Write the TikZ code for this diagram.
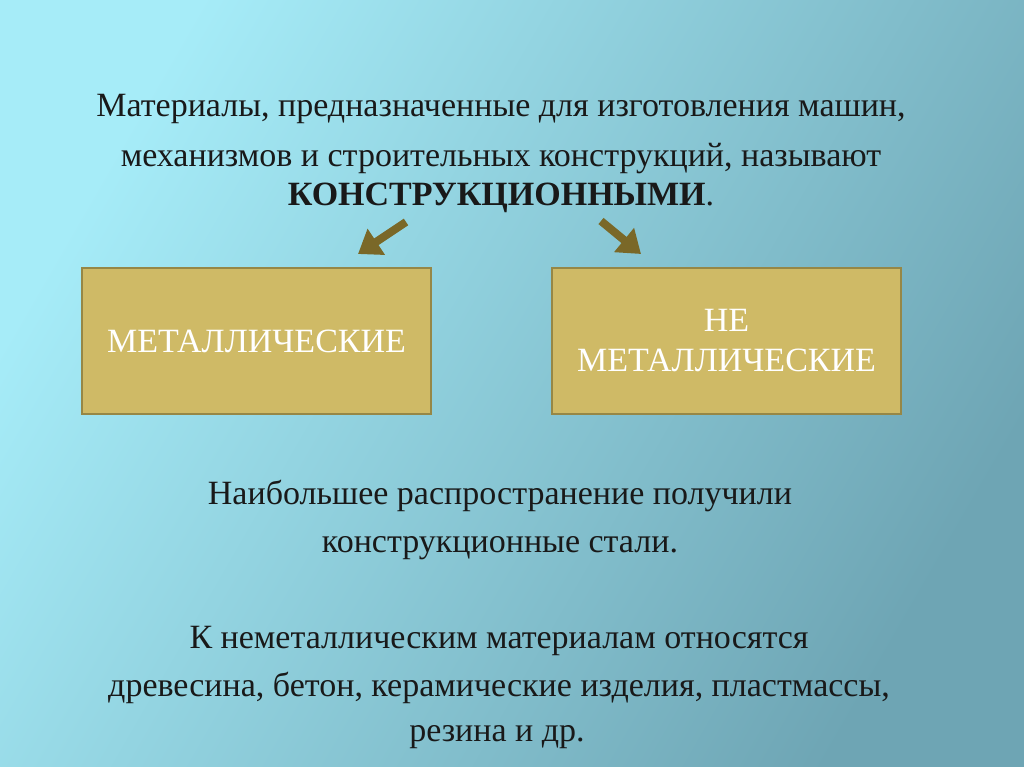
\documentclass[tikz,border=0pt]{standalone}
\usepackage{fontspec}
\setmainfont{Liberation Serif}
\usetikzlibrary{arrows.meta}
\definecolor{bgL}{RGB}{166,236,248}
\definecolor{bgR}{RGB}{110,165,180}
\definecolor{boxfill}{RGB}{207,186,102}
\definecolor{boxline}{RGB}{150,135,70}
\definecolor{arrowc}{RGB}{122,104,40}
\tikzset{
  txt/.style={font=\fontsize{34}{40}\selectfont, text=black!90, inner sep=0pt, anchor=base},
  catbox/.style={draw=boxline, line width=2pt, fill=boxfill, minimum width=349pt, minimum height=146pt, text=white, align=center, font=\fontsize{34}{40}\selectfont, inner sep=0pt},
  catarrow/.style={draw=arrowc, line width=8pt, -{Triangle[length=22pt,width=30pt]}}
}
\begin{document}
\begin{tikzpicture}[x=1pt,y=-1pt]
\useasboundingbox (0,0) rectangle (1024,767);
\shade[shading=axis, left color=bgL, right color=bgR, shading angle=60] (0,0) rectangle (1024,767);
\node[txt] (l1) at (501,117) {Материалы, предназначенные для изготовления машин,};
\node[txt] (l2) at (501,167) {механизмов и строительных конструкций, называют};
\node[txt] (l3) at (501,206) {\textbf{КОНСТРУКЦИОННЫМИ}.};
\node[catbox] (m) at (256.5,341) {МЕТАЛЛИЧЕСКИЕ};
\node[catbox] (n) at (726.5,341) {НЕ\\МЕТАЛЛИЧЕСКИЕ};
\coordinate (a1s) at (406,222);
\coordinate (a2s) at (601,221);
\coordinate (a1e) at (358,254);
\coordinate (a2e) at (641,254);
\draw[catarrow] (a1s) -- (a1e);
\draw[catarrow] (a2s) -- (a2e);
\node[txt] (b1) at (500,504) {Наибольшее распространение получили};
\node[txt] (b2) at (500,552) {конструкционные стали.};
\node[txt] (c1) at (499,648) {К неметаллическим материалам относятся};
\node[txt] (c2) at (499,696) {древесина, бетон, керамические изделия, пластмассы,};
\node[txt] (c3) at (497,741) {резина и др.};
\end{tikzpicture}
\end{document}
